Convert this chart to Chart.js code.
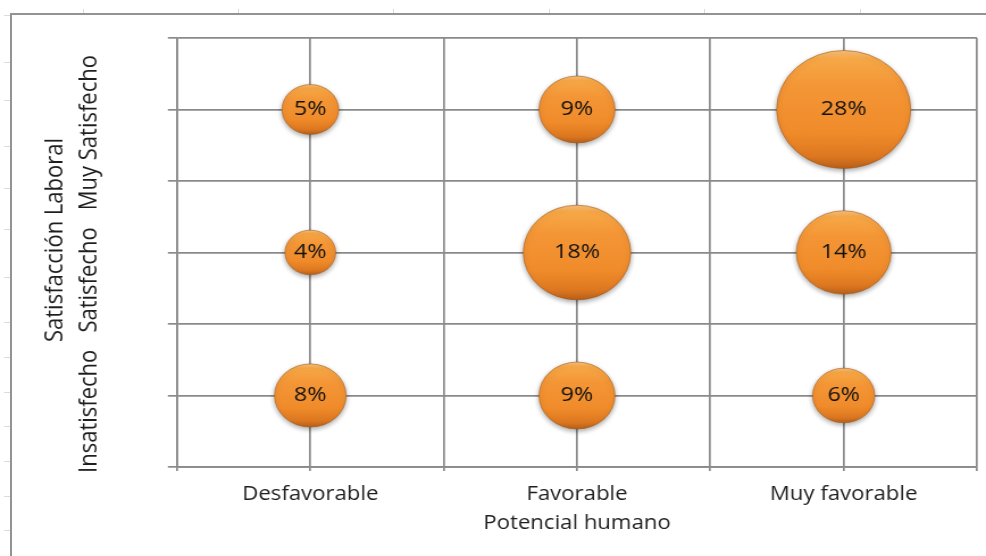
<!DOCTYPE html>
<html lang="es">
<head>
<meta charset="utf-8">
<title>Satisfacción laboral y potencial humano</title>
<script src="https://cdn.jsdelivr.net/npm/chart.js@4.4.1/dist/chart.umd.min.js"></script>
<style>
  html, body { margin: 0; padding: 0; background: #fff; }
  #sheet { position: relative; width: 986px; height: 556px; overflow: hidden; }
  .frame { position: absolute; left: 10px; top: 13px; right: -4px; bottom: -4px;
           border-left: 2px solid #939393; border-top: 2px solid #939393; }
  .cell-v { position: absolute; top: 9px; width: 1px; height: 4px; background: #dcdcdc; }
  .cell-h { position: absolute; left: 4px; width: 6px; height: 1px; background: #dcdcdc; }
  /* the chart is drawn narrower and widened by css, so bubbles come out as ellipses */
  #chart { position: absolute; left: 0; top: 0; }
</style>
</head>
<body>
<div id="sheet">
  <div class="frame"></div>
  <canvas id="chart" width="868" height="556" style="width:986px;height:556px"></canvas>
</div>
<script>
// categories
const potencial = ['Desfavorable', 'Favorable', 'Muy favorable'];
const satisfaccion = ['Insatisfecho', 'Satisfecho', 'Muy Satisfecho'];

// % of people in each cell, ordered like `potencial`
const insatisfecho = [8, 9, 6];
const satisfecho = [4, 18, 14];
const muySatisfecho = [5, 9, 28];

const rows = [insatisfecho, satisfecho, muySatisfecho];

// faint worksheet cell lines around the chart frame
const sheet = document.getElementById('sheet');
[83, 238, 393, 549, 704, 860].forEach(x => {
  const d = document.createElement('div');
  d.className = 'cell-v';
  d.style.left = x + 'px';
  sheet.appendChild(d);
});
[15, 62, 100, 146, 188, 229, 277, 322, 357, 392, 426, 461, 496, 530].forEach(y => {
  const d = document.createElement('div');
  d.className = 'cell-h';
  d.style.top = y + 'px';
  sheet.appendChild(d);
});

const FONT = "'Open Sans', 'Noto Sans', sans-serif";
const GRID = '#8a8a8a';
const BUBBLE_SCALE = 11.15; // area proportional to value

const points = [];
rows.forEach((vals, ri) => {
  vals.forEach((v, ci) => {
    points.push({ x: ci + 1, y: ri * 2 + 1, r: Math.sqrt(v) * BUBBLE_SCALE, v: v });
  });
});

function bubbleFill(context) {
  const chart = context.chart;
  const p = context.raw;
  if (!p || !chart.chartArea) return '#F08C2C';
  const cy = chart.scales.y.getPixelForValue(p.y);
  const g = chart.ctx.createLinearGradient(0, cy - p.r, 0, cy + p.r);
  g.addColorStop(0, '#FAC27C');
  g.addColorStop(0.07, '#F7A847');
  g.addColorStop(0.3, '#F49636');
  g.addColorStop(0.7, '#F08B2A');
  g.addColorStop(0.9, '#DC7720');
  g.addColorStop(1, '#B8601A');
  return g;
}

// soft drop shadow under the bubbles
const bubbleShadow = {
  id: 'bubbleShadow',
  beforeDatasetDraw(chart) {
    const ctx = chart.ctx;
    ctx.save();
    ctx.shadowColor = 'rgba(0,0,0,0.35)';
    ctx.shadowBlur = 5;
    ctx.shadowOffsetY = 2;
  },
  afterDatasetDraw(chart) {
    chart.ctx.restore();
  }
};

// percentage printed in the middle of each bubble
const bubbleLabels = {
  id: 'bubbleLabels',
  afterDatasetsDraw(chart) {
    const ctx = chart.ctx;
    const meta = chart.getDatasetMeta(0);
    ctx.save();
    ctx.font = '20.5px ' + FONT;
    ctx.fillStyle = '#111';
    ctx.textAlign = 'center';
    ctx.textBaseline = 'middle';
    meta.data.forEach((el, i) => {
      ctx.fillText(points[i].v + '%', el.x, el.y);
    });
    ctx.restore();
  }
};

// vertical axis caption: title plus the three satisfaction levels
const yCaption = {
  id: 'yCaption',
  afterDraw(chart) {
    const ctx = chart.ctx;
    const area = chart.chartArea;
    const mid = (area.top + area.bottom) / 2;
    const lines = [
      { text: 'Satisfacción Laboral', x: 54.6, dy: -12.5 },
      { text: satisfaccion.join('   '), x: 84.5, dy: 11.5 }
    ];
    lines.forEach(l => {
      ctx.save();
      ctx.font = '22px ' + FONT;
      ctx.fillStyle = '#1e1e1e';
      ctx.textAlign = 'center';
      ctx.textBaseline = 'alphabetic';
      ctx.translate(l.x, mid + l.dy);
      ctx.rotate(-Math.PI / 2);
      ctx.fillText(l.text, 0, 0);
      ctx.restore();
    });
  }
};

new Chart(document.getElementById('chart'), {
  type: 'bubble',
  data: {
    datasets: [{
      data: points,
      backgroundColor: bubbleFill,
      borderColor: 'rgba(160,85,20,0.55)',
      borderWidth: 1,
      hoverBorderWidth: 1
    }]
  },
  options: {
    responsive: false,
    animation: false,
    events: [],
    layout: {
      autoPadding: false,
      padding: { top: 38, right: 7.9, left: 0, bottom: 0 }
    },
    plugins: {
      legend: { display: false },
      tooltip: { enabled: false }
    },
    scales: {
      x: {
        type: 'linear',
        min: 0.5,
        max: 3.5,
        afterFit: s => {
          s.height = 89;
          s.paddingLeft = 0;
          s.paddingRight = 0;
        },
        grid: { color: GRID, lineWidth: 1.7, tickLength: 4 },
        border: { color: GRID, width: 1.7 },
        ticks: {
          stepSize: 0.5,
          autoSkip: false,
          maxRotation: 0,
          padding: 12,
          color: '#1e1e1e',
          font: { family: FONT, size: 19.5 },
          callback: v => Number.isInteger(v) ? potencial[v - 1] : ''
        },
        title: {
          display: true,
          text: 'Potencial humano',
          color: '#1e1e1e',
          font: { family: FONT, size: 19.5 },
          padding: { top: 0, bottom: 21 }
        }
      },
      y: {
        type: 'linear',
        min: 0,
        max: 6,
        afterFit: s => { s.width = 155.8; },
        grid: { color: GRID, lineWidth: 1.7, tickLength: 8 },
        border: { color: GRID, width: 1.7 },
        ticks: { stepSize: 1, display: false }
      }
    }
  },
  plugins: [bubbleShadow, bubbleLabels, yCaption]
});
</script>
</body>
</html>
